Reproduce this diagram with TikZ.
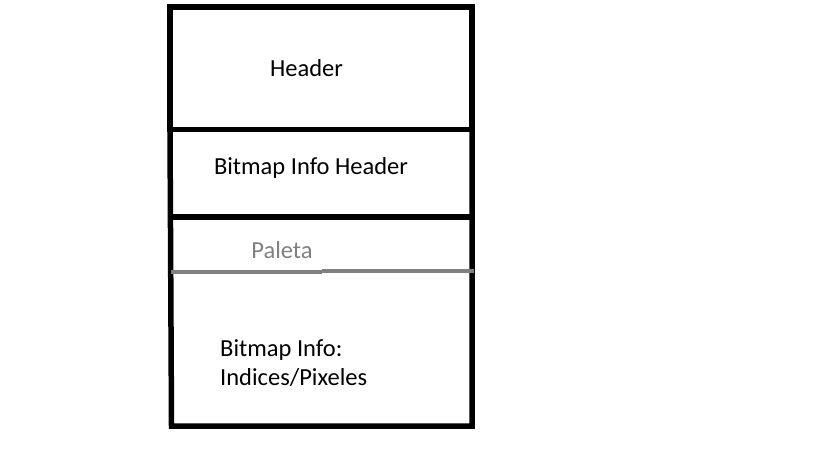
\documentclass[tikz,border=0pt]{standalone}
\usepackage{fontspec}
\setmainfont{Carlito}
\usepackage{tikz}

\tikzset{
    label text/.style={font=\fontsize{24.5}{29.5}\selectfont, inner sep=0pt},
    block line/.style={draw=black, line width=5.5pt},
    paleta line/.style={draw=paletagray, line width=4pt}
}
\definecolor{paletagray}{RGB}{128,128,128}

\begin{document}
\begin{tikzpicture}[x=1pt, y=-1pt]

        \useasboundingbox (0, 0) rectangle (819, 460);

        \coordinate (tl) at (170, 7);
        \coordinate (tr) at (472, 7);
        \coordinate (ml) at (170, 129.5);
        \coordinate (mr) at (472, 129.5);
        \coordinate (sl) at (171.5, 217);
        \coordinate (sr) at (472, 217);
        \coordinate (bl) at (171.5, 426);
        \coordinate (br) at (472, 426);

        \draw[block line] (tl) rectangle (mr);
        \draw[block line] (ml) -- (bl) -- (br) -- (mr);
        \draw[block line] (sl) -- (sr);

        \draw[paleta line] (171, 271.5) -- (322, 271.5);
        \draw[paleta line] (322, 270.5) -- (474, 270.5);

        \node[label text] (header) at (306.5, 68) {Header};
        \node[label text] (info) at (311, 168) {Bitmap Info Header};
        \node[label text, text=paletagray] (paleta) at (282, 250) {Paleta};
        \node[label text, align=left, anchor=north west] (pixels) at (220, 339) {Bitmap Info:\\Indices/Pixeles};

    \end{tikzpicture}
\end{document}
